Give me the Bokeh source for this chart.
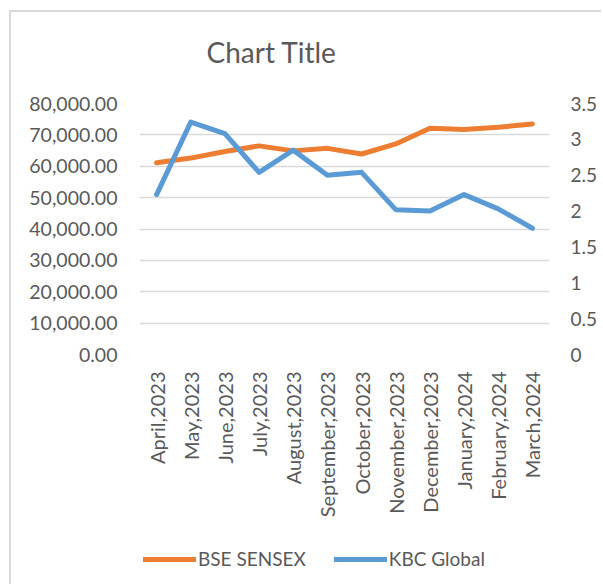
import math
from bokeh.plotting import figure
from bokeh.layouts import column
from bokeh.models import (FactorRange, Range1d, LinearAxis, FixedTicker, NumeralTickFormatter,
                          CustomJSTickFormatter, Legend, LegendItem, Title)
from bokeh.embed import file_html
from bokeh.resources import INLINE

months = ["April,2023", "May,2023", "June,2023", "July,2023", "August,2023", "September,2023",
          "October,2023", "November,2023", "December,2023", "January,2024", "February,2024",
          "March,2024"]
bse_sensex = [61100, 62600, 64700, 66500, 64900, 65700, 63900, 67100, 72100, 71700, 72400, 73500]
kbc_global = [2.23, 3.24, 3.08, 2.54, 2.85, 2.50, 2.54, 2.02, 2.00, 2.23, 2.03, 1.76]
left_ticks = [0, 10000, 20000, 30000, 40000, 50000, 60000, 70000, 80000]
right_ticks = [0, 0.5, 1, 1.5, 2, 2.5, 3, 3.5]
series_names = ["BSE SENSEX", "KBC Global"]
series_colors = ["#ED7D31", "#5B9BD5"]

FONT = "Lato"
TXT = "#595959"
GRID = "#d9d9d9"

p = figure(width=590, height=526, x_range=FactorRange(*months, range_padding=0),
           y_range=Range1d(0, 80000), output_backend="svg", toolbar_location=None,
           min_border_left=128, min_border_right=52, min_border_top=91, min_border_bottom=184)
p.extra_y_ranges = {"right": Range1d(0, 3.5)}

# spacer between title and plot area (closest to the frame)
p.add_layout(Title(text=" ", text_font_size="1px", standoff=27), "above")

p.title.text = "Chart Title"
p.title.text_font = FONT
p.title.text_font_size = "28px"
p.title.text_font_style = "normal"
p.title.text_color = TXT
p.title.align = "left"
p.title.offset = 67
p.title.standoff = 10

p.outline_line_color = None
p.background_fill_color = "white"
p.border_fill_color = "white"

p.xgrid.grid_line_color = None
p.ygrid.grid_line_color = GRID
p.ygrid.grid_line_width = 1.5
p.ygrid.ticker = FixedTicker(ticks=left_ticks)

# left axis
ya = p.yaxis[0]
ya.ticker = FixedTicker(ticks=left_ticks)
ya.formatter = NumeralTickFormatter(format="0,0.00")
ya.axis_line_color = None
ya.major_tick_line_color = None
ya.minor_tick_line_color = None
ya.major_tick_out = 0
ya.major_label_standoff = 22
ya.major_label_text_font = FONT
ya.major_label_text_font_size = "19.5px"
ya.major_label_text_color = TXT

# right axis
ra = LinearAxis(y_range_name="right", ticker=FixedTicker(ticks=right_ticks),
                formatter=CustomJSTickFormatter(code="return tick.toString();"))
ra.axis_line_color = None
ra.major_tick_line_color = None
ra.minor_tick_line_color = None
ra.major_tick_out = 0
ra.major_label_standoff = 21
ra.major_label_text_font = FONT
ra.major_label_text_font_size = "19px"
ra.major_label_text_color = TXT
p.add_layout(ra, "right")

# x axis
xa = p.xaxis[0]
xa.axis_line_color = None
xa.major_tick_line_color = None
xa.major_tick_out = 0
xa.major_label_orientation = math.pi / 2
xa.major_label_standoff = 17
xa.major_label_text_font = FONT
xa.major_label_text_font_size = "20px"
xa.major_label_text_color = TXT

p.line(months, bse_sensex, line_color=series_colors[0], line_width=5,
       line_cap="round", line_join="round")
p.line(months, kbc_global, line_color=series_colors[1], line_width=5,
       line_cap="round", line_join="round", y_range_name="right")

# legend strip below the chart
p2 = figure(width=590, height=46, x_range=Range1d(0, 1), y_range=Range1d(0, 1),
            output_backend="svg", toolbar_location=None, min_border=0)
p2.axis.visible = False
p2.grid.grid_line_color = None
p2.outline_line_color = None
items = []
for name, col in zip(series_names, series_colors):
    r = p2.line([-5, -4], [-5, -5], line_color=col, line_width=5, line_cap="round")
    items.append(LegendItem(label=name, renderers=[r]))
legend = Legend(items=items, orientation="horizontal", location=(4, 14), border_line_color=None,
                background_fill_alpha=0, padding=0, margin=0, spacing=28, label_standoff=2,
                glyph_width=53, glyph_height=20, label_text_font=FONT,
                label_text_font_size="19px", label_text_color=TXT)
p2.add_layout(legend, "center")

layout = column(p, p2, spacing=0)
layout.styles = {"margin-left": "9px", "margin-top": "10px",
                 "border-left": "2px solid #d9d9d9", "border-top": "2px solid #d9d9d9"}

open("out.html", "w").write(file_html(layout, INLINE))
